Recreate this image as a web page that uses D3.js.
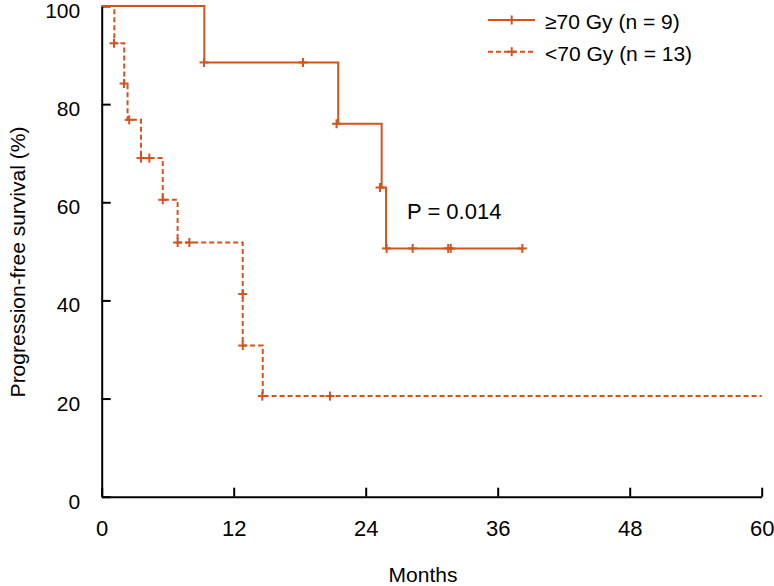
<!DOCTYPE html>
<html>
<head>
<meta charset="utf-8">
<script src="https://cdn.jsdelivr.net/npm/d3@7/dist/d3.min.js"></script>
<style>
  html, body { margin: 0; padding: 0; background: #fff; }
  svg { display: block; }
  text { font-family: "Liberation Sans", Arial, sans-serif; fill: #000; }
</style>
</head>
<body>
<svg id="chart" width="774" height="586"></svg>
<script>
// ---- Data ----
const xTicks = [0, 12, 24, 36, 48, 60];
const yTicks = [0, 20, 40, 60, 80, 100];

// >=70 Gy (n = 9): Kaplan-Meier steps
const highTimes = [0, 9.33, 21.5, 25.45, 25.85, 38.24];
const highSurv  = [100, 88.5, 76.0, 63.0, 50.6, 50.6];
const highMarkTimes = [9.3, 18.3, 21.35, 25.3, 25.9, 28.27, 31.5, 31.73, 38.24];
const highMarkSurv  = [88.5, 88.5, 76.0, 63.0, 50.6, 50.6, 50.6, 50.6, 50.6];

// <70 Gy (n = 13): Kaplan-Meier steps
const lowTimes = [0, 1.15, 2.05, 2.35, 3.57, 5.55, 6.9, 12.82, 12.82, 14.64, 60];
const lowSurv  = [100, 92.4, 84.2, 76.8, 69.0, 60.5, 51.8, 41.3, 30.8, 20.5, 20.5];
const lowMarkTimes = [1.12, 2.03, 2.5, 3.57, 4.33, 5.55, 6.9, 7.97, 12.82, 12.82, 14.6, 20.75];
const lowMarkSurv  = [92.4, 84.2, 76.8, 69.0, 69.0, 60.5, 51.8, 51.8, 41.3, 30.8, 20.5, 20.5];

const legendLabels = ["\u226570 Gy (n = 9)", "<70 Gy (n = 13)"];
const pText = "P = 0.014";
const xTitle = "Months";
const yTitle = "Progression-free survival (%)";

// ---- Drawing ----
const color = "#d4531c";
const svg = d3.select("#chart");
const x = d3.scaleLinear().domain([0, 60]).range([101.7, 761.7]);
const y = d3.scaleLinear().domain([0, 100]).range([496.7, 6]);

const zip = (a, b) => a.map((v, i) => [v, b[i]]);
const line = d3.line().x(d => x(d[0])).y(d => y(d[1])).curve(d3.curveStepAfter);

// axes
const xAxis = d3.axisBottom(x).tickValues(xTicks).tickSize(-9).tickSizeOuter(0).tickPadding(0).tickFormat(d3.format("d"));
const gx = svg.append("g").attr("transform", `translate(0,${y(0)})`).call(xAxis);
gx.select(".domain").attr("stroke", "#000").attr("stroke-width", 2);
gx.selectAll(".tick line").attr("stroke", "#000").attr("stroke-width", 2);
gx.selectAll(".tick text").attr("font-size", 22).attr("y", 32).attr("dy", 0)
  .attr("dominant-baseline", "central");

const yAxis = d3.axisLeft(y).tickValues(yTicks).tickSize(-9).tickSizeOuter(0).tickPadding(0).tickFormat(d3.format("d"));
const gy = svg.append("g").attr("transform", `translate(${x(0)},0)`).call(yAxis);
gy.select(".domain").attr("stroke", "#000").attr("stroke-width", 2);
gy.selectAll(".tick line").attr("stroke", "#000").attr("stroke-width", 2);
gy.selectAll(".tick text").attr("font-size", 21).attr("x", -21.5).attr("dy", 0)
  .attr("dominant-baseline", "central").attr("y", 4).attr("text-anchor", "end");
svg.selectAll(".tick text").attr("fill", "#000").style("font-family", '"Liberation Sans", Arial, sans-serif');

// curves
svg.append("path").attr("d", line(zip(highTimes, highSurv)))
  .attr("fill", "none").attr("stroke", color).attr("stroke-width", 2);
svg.append("path").attr("d", line(zip(lowTimes, lowSurv)))
  .attr("fill", "none").attr("stroke", color).attr("stroke-width", 2)
  .attr("stroke-dasharray", "5,3");

function plus(g, px, py, h) {
  g.append("line").attr("x1", px - h).attr("x2", px + h).attr("y1", py).attr("y2", py)
    .attr("stroke", color).attr("stroke-width", 2);
  g.append("line").attr("x1", px).attr("x2", px).attr("y1", py - h).attr("y2", py + h)
    .attr("stroke", color).attr("stroke-width", 2);
}
const marks = svg.append("g");
zip(highMarkTimes, highMarkSurv).forEach(d => plus(marks, x(d[0]), y(d[1]), 4.5));
zip(lowMarkTimes, lowMarkSurv).forEach(d => plus(marks, x(d[0]), y(d[1]), 4.5));

// legend
const leg = svg.append("g");
const legY = [20, 51.7];
legendLabels.forEach((lab, i) => {
  const l = leg.append("line").attr("x1", 488).attr("x2", 535).attr("y1", legY[i]).attr("y2", legY[i])
    .attr("stroke", color).attr("stroke-width", 2);
  if (i === 1) l.attr("stroke-dasharray", "5,3");
  plus(leg, 511.7, legY[i], 4.5);
  leg.append("text").attr("x", 545).attr("y", legY[i] + 1.5).attr("font-size", 21)
    .attr("dominant-baseline", "central").text(lab);
});

// P-value
svg.append("text").attr("x", 407).attr("y", 211).attr("font-size", 22)
  .attr("dominant-baseline", "central").text(pText);

// titles
svg.append("text").attr("x", 423).attr("y", 581.5).attr("font-size", 21)
  .attr("text-anchor", "middle").text(xTitle);
svg.append("text").attr("transform", "translate(25,262) rotate(-90)").attr("font-size", 21)
  .attr("text-anchor", "middle").text(yTitle);
</script>
</body>
</html>
